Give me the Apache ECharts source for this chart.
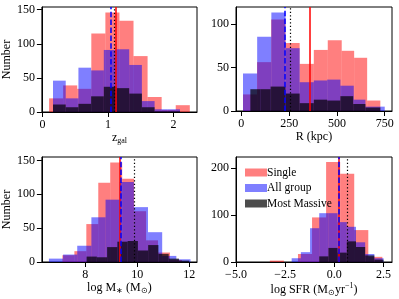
<!DOCTYPE html>
<html><head><meta charset="utf-8">
<script src="https://cdn.jsdelivr.net/npm/echarts@6/dist/echarts.min.js"></script>
<style>html,body{margin:0;padding:0;background:#fff}#c{width:399px;height:299px}</style>
</head><body><div id="c"></div>
<script>
// ---- Panel 1: z_gal ----
const zEdgesSingle  = [0.10,0.315,0.53,0.745,0.96,1.175,1.39,1.605,1.82,2.035,2.25];
const zSingle       = [20,39,34,115,146,134,82,22,3,10];
const zEdgesGroup   = [0.16,0.354,0.548,0.742,0.936,1.13,1.324,1.518,1.712,1.906,2.10];
const zGroup        = [46,20,65,61,91,92,69,16,4,4];
const zEdgesMassive = [0.16,0.354,0.548,0.742,0.936,1.13,1.324,1.518,1.712,1.906,2.10];
const zMassive      = [11,7,12,23,37,35,27,7,1,1];
const zMeans        = [1.117,1.04,1.086];   // single, group, massive
const zTicksX = [0,1,2], zTicksY = [0,50,100,150];

// ---- Panel 2: R (kpc) ----
const rEdgesSingle  = [8.6,82,156,231,305,379,452,525,590,658,727];
const rSingle       = [19,56,105,78,54,70,81,69,61,12];
const rEdgesGroup   = [8.6,82.7,156.9,231,305,379,449,518,588,649,750];
const rGroup        = [43,85,113,72,33,35,36,29,13,5];
const rEdgesMassive = [47,100,153,231,305,379,449,518,585,649,727];
const rMassive      = [25,25,28,20,9,13,12,17,8,4];
const rMeans        = [357,226,254];
const rTicksX = [0,250,500,750], rTicksY = [0,50,100];

// ---- Panel 3: log M* ----
const mEdgesSingle  = [7.12,7.58,8.04,8.50,8.96,9.42,9.88,10.34,10.80,11.26,11.72];
const mSingle       = [10,16,56,117,147,123,75,32,14,3];
const mEdgesGroup   = [6.60,7.145,7.69,8.235,8.78,9.325,9.87,10.415,10.96,11.505,12.05];
const mGroup        = [5,11,24,66,92,118,81,44,9,4];
const mEdgesMassive = [8.05,8.445,8.84,9.235,9.63,10.025,10.42,10.815,11.21,11.605,12.0];
const mMassive      = [8,7,22,30,31,17,25,12,5,2];
const mMeans        = [9.31,9.37,9.89];
const mTicksX = [8,10,12], mTicksY = [0,50,100,150];

// ---- Panel 4: log SFR ----
const sEdgesSingle  = [-3.28,-2.565,-1.85,-1.135,-0.42,0.295,1.01,1.725,2.44];
const sSingle       = [3,0,17,95,213,188,68,11];
const sEdgesGroup   = [-2.17,-1.703,-1.236,-0.769,-0.302,0.165,0.632,1.099,1.566,2.033,2.50];
const sGroup        = [8,21,72,104,104,85,75,42,17,8];
const sEdgesMassive = [-0.769,-0.302,0.165,0.632,1.099,1.566,2.033,2.50];
const sMassive      = [12,30,20,44,32,14,5];
const sMeans        = [0.23,0.21,0.67];
const sTicksX = [-5,-2.5,0,2.5], sTicksY = [0,100,200];

const names = ['Single','All group','Most Massive'];
const fills = ['rgba(255,0,0,0.5)','rgba(0,0,255,0.5)','rgba(0,0,0,0.7)'];
const lineStyles = [
  {color:'#ff0000', width:1.5, type:'solid'},
  {color:'#0000ff', width:1.5, type:[5.5,2.4]},
  {color:'#000000', width:1.2, type:[1.3,2.2]}
];
const FONT = 'Liberation Serif';

function hist(edges, counts){
  const out = [];
  for (let i = 0; i < counts.length; i++) out.push([edges[i], edges[i+1], counts[i]]);
  return out;
}
function renderer(color){
  return function(params, api){
    const a = api.coord([api.value(0), api.value(2)]);
    const b = api.coord([api.value(1), 0]);
    return {type:'rect', shape:{x:a[0], y:a[1], width:b[0]-a[0], height:b[1]-a[1]}, style:{fill:color}};
  };
}

const panels = [
  {e:[zEdgesSingle,zEdgesGroup,zEdgesMassive], c:[zSingle,zGroup,zMassive], m:zMeans,
   xr:[-0.01,2.36], yr:[0,154], tx:zTicksX, ty:zTicksY, fmt:v=>String(v),
   name:'{t|z}{s|gal}', gap:13, yname:'Number'},
  {e:[rEdgesSingle,rEdgesGroup,rEdgesMassive], c:[rSingle,rGroup,rMassive], m:rMeans,
   xr:[-28,788], yr:[0,119.2], tx:rTicksX, ty:rTicksY, fmt:v=>String(v),
   name:'R (kpc)', gap:19, yname:''},
  {e:[mEdgesSingle,mEdgesGroup,mEdgesMassive], c:[mSingle,mGroup,mMassive], m:mMeans,
   xr:[6.33,12.3], yr:[0,155], tx:mTicksX, ty:mTicksY, fmt:v=>String(v),
   name:'log M{s|∗} (M{s|⊙})', gap:17, yname:'Number'},
  {e:[sEdgesSingle,sEdgesGroup,sEdgesMassive], c:[sSingle,sGroup,sMassive], m:sMeans,
   xr:[-5,2.93], yr:[0,223.7], tx:sTicksX, ty:sTicksY, fmt:v=>v.toFixed(1).replace('-','\u2212'),
   name:'log SFR (M{s|⊙}yr{p|\u22121})', gap:17, yname:''}
];
const grids = [
  {left:41, top:7, width:156, height:105},
  {left:236, top:7, width:156, height:104},
  {left:41, top:157, width:156, height:105},
  {left:236, top:157, width:156, height:105}
];

const xAxes = [], yAxes = [], series = [];
panels.forEach((p, i) => {
  xAxes.push({
    type:'value', gridIndex:i, min:p.xr[0], max:p.xr[1],
    name:p.name, nameLocation:'middle', nameGap:p.gap,
    nameTextStyle:{fontFamily:FONT, fontSize:12, color:'#000',
      rich:{t:{fontFamily:FONT, fontSize:12, color:'#000'},
            s:{fontFamily:FONT, fontSize:8, color:'#000', padding:[7,0,0,0]},
            p:{fontFamily:FONT, fontSize:8, color:'#000', padding:[0,0,7,0]}}},
    axisLine:{show:true, onZero:false, lineStyle:{color:'#000', width:1}},
    axisTick:{show:true, length:5, inside:false, customValues:p.tx, lineStyle:{color:'#000', width:1}},
    axisLabel:{customValues:p.tx, margin:7, fontFamily:FONT, fontSize:12, color:'#000', formatter:p.fmt},
    splitLine:{show:false}
  });
  yAxes.push({
    type:'value', gridIndex:i, min:p.yr[0], max:p.yr[1],
    name:p.yname, nameLocation:'middle', nameGap:28, nameRotate:90,
    nameTextStyle:{fontFamily:FONT, fontSize:12, color:'#000'},
    axisLine:{show:true, onZero:false, lineStyle:{color:'#000', width:1}},
    axisTick:{show:true, length:5, inside:false, customValues:p.ty, lineStyle:{color:'#000', width:1}},
    axisLabel:{customValues:p.ty, margin:7, fontFamily:FONT, fontSize:12, color:'#000'},
    splitLine:{show:false}
  });
  for (let k = 0; k < 3; k++) {
    series.push({
      type:'custom', name:names[k], xAxisIndex:i, yAxisIndex:i,
      renderItem:renderer(fills[k]), clip:true,
      itemStyle:{color:fills[k]},
      encode:{x:[0,1], y:2},
      data:hist(p.e[k], p.c[k]),
      z:2+k,
      markLine:{silent:true, symbol:['none','none'], label:{show:false}, animation:false,
        lineStyle:lineStyles[k], z:10, data:[{xAxis:p.m[k]}]}
    });
  }
});

const chart = echarts.init(document.getElementById('c'), null, {renderer:'canvas'});
chart.setOption({
  animation:false,
  backgroundColor:'#fff',
  grid:grids.map(g => Object.assign({show:true, borderColor:'#000', borderWidth:1, backgroundColor:'transparent'}, g)),
  xAxis:xAxes, yAxis:yAxes, series:series,
  legend:{
    show:true, orient:'vertical', left:245, top:166, padding:0,
    itemWidth:22, itemHeight:8, itemGap:2.5,
    icon:'rect', selectedMode:false,
    textStyle:{fontFamily:FONT, fontSize:11.5, color:'#000', lineHeight:13, padding:[0,0,0,-5]},
    data:names.map((n,k)=>({name:n, itemStyle:{color:fills[k]}}))
  }
});
</script></body></html>
